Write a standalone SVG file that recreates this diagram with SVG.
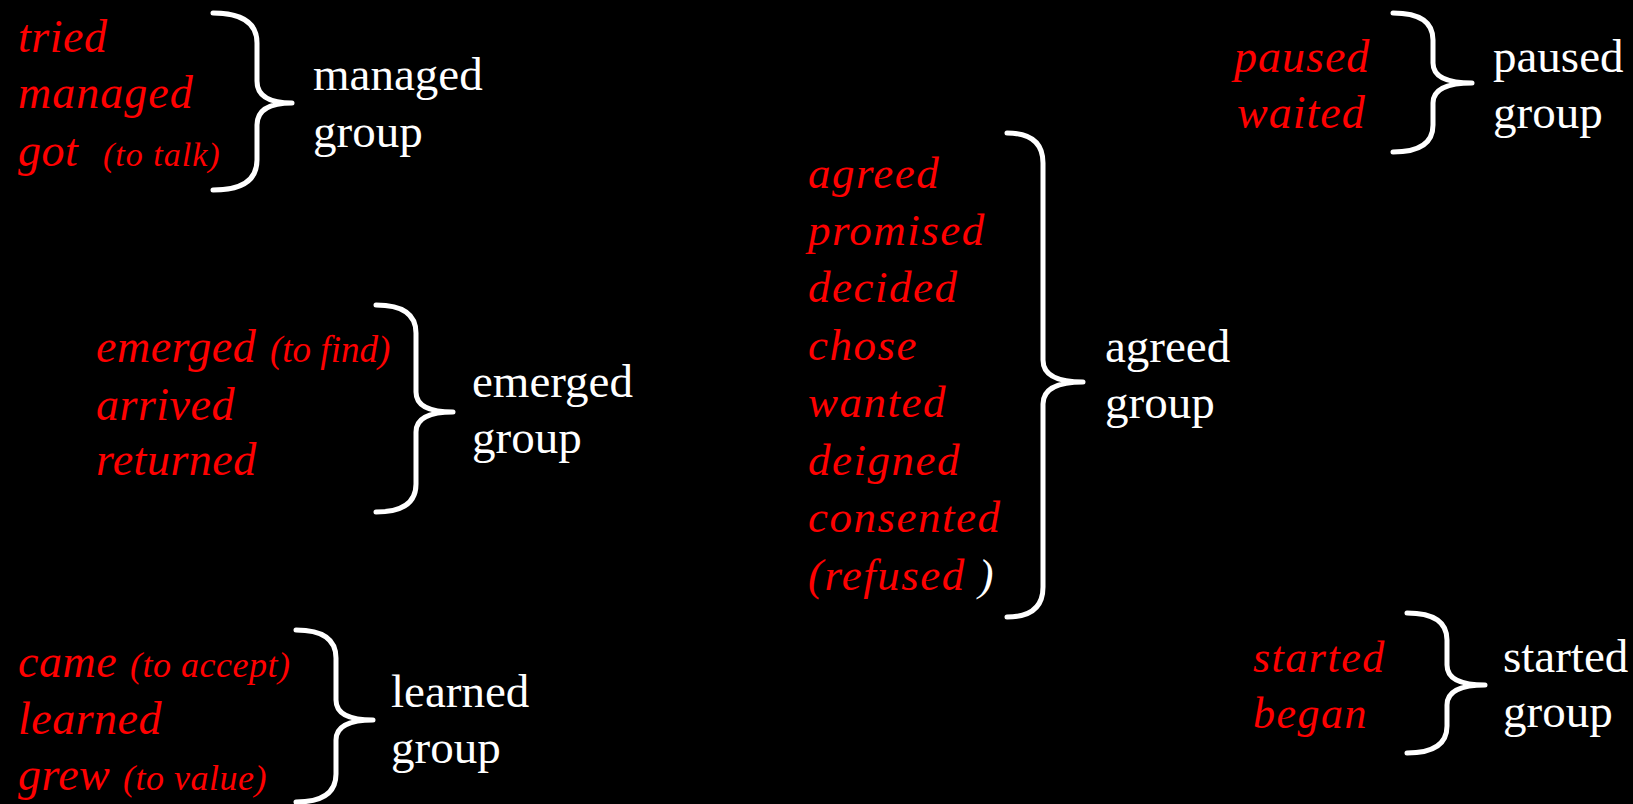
<svg xmlns="http://www.w3.org/2000/svg" width="1633" height="804" viewBox="0 0 1633 804">
<style>
.r{fill:#ff0000;font-family:"Liberation Serif","Times New Roman",serif;font-style:italic}
.w{fill:#ffffff;font-family:"Liberation Serif","Times New Roman",serif;font-size:47px}
.s{font-size:34px}
.b{fill:none;stroke:#ffffff;stroke-width:5;stroke-linecap:round;stroke-linejoin:round}
</style>
<rect x="0" y="0" width="1633" height="804" fill="#000000"/>
<g id="managed">
<g class="r" font-size="46" letter-spacing="0.5">
<text x="18" y="52">tried</text>
<text x="18" y="108" letter-spacing="1">managed</text>
<text x="18" y="166">got</text>
<text x="103" y="166" class="s" letter-spacing="1">(to talk)</text>
</g>
<path class="b" d="M213,13 Q257,13 257,43 L257,81 Q257,103 292,103 Q257,103 257,125 L257,160 Q257,190 213,190"/>
<text class="w" x="313" y="90">managed</text>
<text class="w" x="313" y="147">group</text>
</g>
<g id="emerged">
<g class="r" font-size="46" letter-spacing="0.5">
<text x="96" y="362">emerged</text>
<text x="270" y="362" font-size="37" letter-spacing="0">(to find)</text>
<text x="96" y="420">arrived</text>
<text x="96" y="475">returned</text>
</g>
<path class="b" d="M376,305 Q416,305 416,333 L416,392 Q416,412 453,412 Q416,412 416,432 L416,484 Q416,512 376,512"/>
<text class="w" x="472" y="397">emerged</text>
<text class="w" x="472" y="453">group</text>
</g>
<g id="learned">
<g class="r" font-size="46" letter-spacing="0.5">
<text x="18" y="677">came</text>
<text x="130" y="677" font-size="36">(to accept)</text>
<text x="18" y="734">learned</text>
<text x="18" y="790">grew</text>
<text x="123" y="790" font-size="36">(to value)</text>
</g>
<path class="b" d="M296,630 Q336,630 336,658 L336,700 Q336,720 373,720 Q336,720 336,740 L336,774 Q336,802 296,802"/>
<text class="w" x="391" y="707">learned</text>
<text class="w" x="391" y="763">group</text>
</g>
<g id="agreed">
<g class="r" font-size="45" letter-spacing="1.5">
<text x="808" y="188">agreed</text>
<text x="808" y="245">promised</text>
<text x="808" y="302">decided</text>
<text x="808" y="360">chose</text>
<text x="808" y="417">wanted</text>
<text x="808" y="475">deigned</text>
<text x="808" y="532">consented</text>
<text x="808" y="590">(refused<tspan fill="#ffffff"> )</tspan></text>
</g>
<path class="b" d="M1007,133 Q1043,133 1043,163 L1043,360 Q1043,382 1083,382 Q1043,382 1043,404 L1043,587 Q1043,617 1007,617"/>
<text class="w" x="1105" y="362">agreed</text>
<text class="w" x="1105" y="418">group</text>
</g>
<g id="paused">
<g class="r" font-size="46" letter-spacing="1">
<text x="1234" y="72">paused</text>
<text x="1237" y="128">waited</text>
</g>
<path class="b" d="M1393,13 Q1433,13 1433,40 L1433,63 Q1433,83 1472,83 Q1433,83 1433,103 L1433,125 Q1433,152 1393,152"/>
<text class="w" x="1493" y="72">paused</text>
<text class="w" x="1493" y="128">group</text>
</g>
<g id="started">
<g class="r" font-size="44" letter-spacing="1.5">
<text x="1253" y="672">started</text>
<text x="1253" y="728">began</text>
</g>
<path class="b" d="M1407,613 Q1447,613 1447,640 L1447,665 Q1447,685 1485,685 Q1447,685 1447,705 L1447,726 Q1447,753 1407,753"/>
<text class="w" x="1503" y="672">started</text>
<text class="w" x="1503" y="727">group</text>
</g>
</svg>
